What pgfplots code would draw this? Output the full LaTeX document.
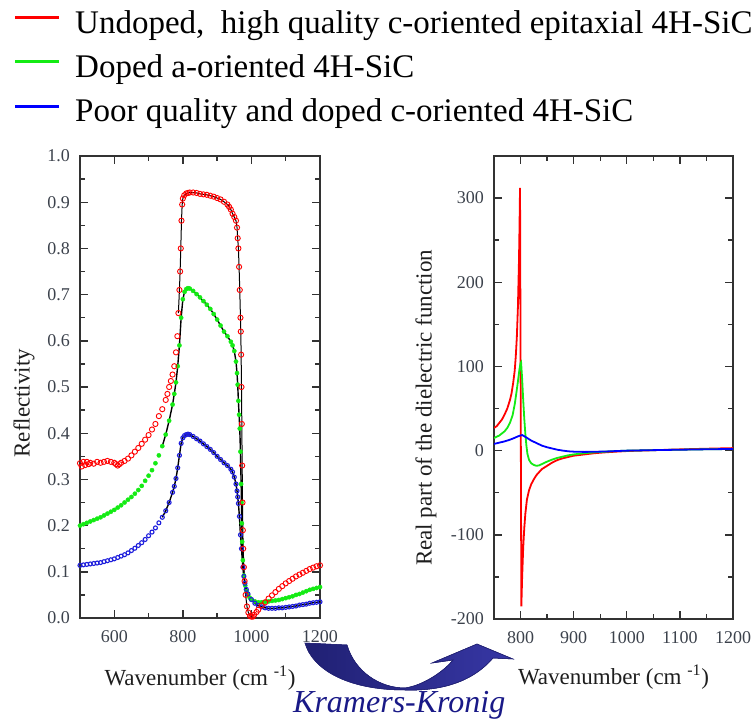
\documentclass[border=0pt]{standalone}
\usepackage{pgfplots}
\usepackage{pgfplotstable}
\pgfplotsset{compat=1.18}
\usepackage{fontspec}
\setmainfont{Liberation Serif}
\definecolor{navyL}{RGB}{32,32,115}
\definecolor{navyR}{RGB}{55,55,165}
\definecolor{kkcol}{RGB}{25,25,135}
\definecolor{ticktext}{RGB}{60,66,76}
\definecolor{labtext}{RGB}{30,30,30}
\definecolor{axcol}{RGB}{50,50,50}
\definecolor{myred}{RGB}{255,0,0}
\definecolor{mygreen}{RGB}{20,235,20}
\definecolor{myblue}{RGB}{0,0,255}
\definecolor{markblue}{RGB}{30,30,220}

\pgfplotstableread{
w R
500 0.335
505 0.328
510 0.338
515 0.331
520 0.338
525 0.333
530 0.336
540 0.334
550 0.338
560 0.336
570 0.338
580 0.340
590 0.338
600 0.336
605 0.333
610 0.330
615 0.333
620 0.336
630 0.340
640 0.345
650 0.352
660 0.360
670 0.368
680 0.377
690 0.386
700 0.396
710 0.408
720 0.420
730 0.437
740 0.452
750 0.472
755 0.485
760 0.500
765 0.513
770 0.527
775 0.545
780 0.575
784 0.610
787 0.660
790 0.710
792 0.750
794 0.800
796 0.860
798 0.895
800 0.908
804 0.915
810 0.919
815 0.920
820 0.921
830 0.921
840 0.920
850 0.918
860 0.917
870 0.916
880 0.914
890 0.912
900 0.909
910 0.906
920 0.901
930 0.895
935 0.890
940 0.884
945 0.875
950 0.868
955 0.860
958 0.845
960 0.822
962 0.800
964 0.760
966 0.710
968 0.650
969 0.620
970 0.570
971 0.500
972 0.420
973 0.330
974 0.250
975 0.190
976 0.150
978 0.110
980 0.080
983 0.050
987 0.025
991 0.012
996 0.004
1000 0.003
1004 0.003
1008 0.007
1015 0.013
1020 0.018
1030 0.027
1040 0.034
1050 0.042
1060 0.049
1070 0.056
1080 0.063
1090 0.069
1100 0.075
1110 0.080
1120 0.085
1130 0.090
1140 0.094
1150 0.098
1160 0.102
1170 0.106
1180 0.109
1190 0.112
1200 0.114
}\redR

\pgfplotstableread{
w R
500 0.200
510 0.203
520 0.206
530 0.209
540 0.212
550 0.215
560 0.218
570 0.222
580 0.226
590 0.230
600 0.234
610 0.239
620 0.244
630 0.250
640 0.256
650 0.262
660 0.269
670 0.277
680 0.286
690 0.297
700 0.308
710 0.320
720 0.335
730 0.352
740 0.372
750 0.397
760 0.427
770 0.462
775 0.485
780 0.510
785 0.545
790 0.590
795 0.650
800 0.690
805 0.706
810 0.712
815 0.714
820 0.713
830 0.708
840 0.701
850 0.694
860 0.686
870 0.678
880 0.669
890 0.658
900 0.646
910 0.633
920 0.620
930 0.610
940 0.598
945 0.590
950 0.578
955 0.555
958 0.530
960 0.505
962 0.470
964 0.440
966 0.410
968 0.360
970 0.290
971 0.250
972 0.205
973 0.165
975 0.125
978 0.092
982 0.070
986 0.058
990 0.050
995 0.044
1000 0.040
1010 0.036
1020 0.034
1030 0.034
1040 0.035
1050 0.036
1060 0.037
1070 0.038
1080 0.039
1090 0.041
1100 0.043
1110 0.045
1120 0.047
1130 0.050
1140 0.052
1150 0.055
1160 0.058
1170 0.061
1180 0.063
1190 0.065
1200 0.067
}\greenR

\pgfplotstableread{
w R
500 0.114
510 0.115
520 0.116
530 0.117
540 0.118
550 0.119
560 0.120
570 0.122
580 0.124
590 0.126
600 0.128
610 0.131
620 0.134
630 0.137
640 0.141
650 0.146
660 0.151
670 0.157
680 0.163
690 0.170
700 0.178
710 0.186
720 0.195
730 0.206
740 0.218
750 0.232
760 0.250
770 0.272
775 0.285
780 0.302
785 0.325
790 0.352
795 0.378
800 0.390
805 0.395
810 0.397
815 0.398
820 0.397
830 0.393
840 0.388
850 0.383
860 0.377
870 0.371
880 0.365
890 0.358
900 0.350
910 0.343
920 0.336
930 0.330
940 0.322
945 0.316
950 0.305
955 0.290
958 0.275
960 0.262
962 0.248
965 0.220
968 0.180
971 0.150
975 0.110
978 0.090
981 0.075
985 0.062
990 0.052
1000 0.040
1010 0.032
1020 0.027
1030 0.024
1040 0.022
1050 0.021
1060 0.021
1070 0.021
1080 0.022
1090 0.022
1100 0.023
1110 0.024
1120 0.025
1130 0.026
1140 0.028
1150 0.029
1160 0.030
1170 0.032
1180 0.033
1190 0.034
1200 0.035
}\blueR

\pgfplotstableread{
w e
750 27
755 29
760 33
765 37
770 43
775 50
780 60
783 68
786 80
789 95
791 112
793 135
795 170
797 225
798 265
799 312
801.5 -185
803 -150
805 -115
807 -92
809 -75
812 -58
816 -47
820 -40
825 -34
830 -29
840 -22
850 -18
860 -14
870 -11
880 -9
890 -7.5
900 -6
920 -4.5
940 -3
960 -2
980 -1.2
1000 -0.5
1050 0.5
1100 1.5
1150 2.3
1200 3
}\redE

\pgfplotstableread{
w e
750 15
760 18
770 23
775 27
780 33
785 42
789 55
792 68
795 82
798 97
800 104
801 105
803 85
805 60
807 38
809 20
811 6
813 -4
816 -11
820 -15
825 -17
830 -18
835 -17.5
840 -16
850 -13
860 -10.5
870 -8.5
880 -7
890 -5.5
900 -4.5
920 -3
940 -2
960 -1.2
980 -0.5
1000 0
1050 0.6
1100 1.1
1150 1.6
1200 2
}\greenE

\pgfplotstableread{
w e
750 8
760 9.5
770 11
780 13
790 15.5
795 17
800 18
803 18.5
806 17.5
810 16
815 14
820 12
830 9
840 6
850 4
860 2.5
870 1
880 0
890 -0.8
900 -1.2
920 -1.5
940 -1.3
960 -1
1000 0
1050 0.6
1100 1.1
1150 1.6
1200 2
}\blueE

\pgfplotsset{
  panel/.style={
    scale only axis,
    anchor=south west,
    axis line style={line width=1.6bp, axcol},
    every tick/.style={line width=1.4bp, axcol},
    tick align=inside,
    major tick length=8bp,
    minor tick length=5bp,
    tick label style={font=\fontsize{18bp}{18bp}\selectfont, text=ticktext},
    xticklabel style={anchor=base, yshift=-24bp, inner sep=0pt},
    yticklabel style={anchor=east, xshift=-10bp, inner sep=0pt},
    label style={font=\fontsize{23bp}{23bp}\selectfont, text=labtext},
    clip=true,
  }
}

\begin{document}
\begin{tikzpicture}
\useasboundingbox (0bp,0bp) rectangle (751bp,-725bp);
\clip (0bp,0bp) rectangle (751bp,-725bp);

% legend
\begin{scope}[x=1bp,y=1bp]
\draw[myred, line width=3bp] (15,-17) -- (59,-17);
\draw[mygreen, line width=3bp] (15,-61) -- (59,-61);
\draw[myblue, line width=3bp] (15,-106) -- (59,-106);
\node[anchor=base west, inner sep=0pt, font=\fontsize{33bp}{33bp}\selectfont] at (75,-33) {Undoped,~ high quality c-oriented epitaxial 4H-SiC};
\node[anchor=base west, inner sep=0pt, font=\fontsize{33bp}{33bp}\selectfont] at (75,-77) {Doped a-oriented 4H-SiC};
\node[anchor=base west, inner sep=0pt, font=\fontsize{33bp}{33bp}\selectfont] at (75,-121) {Poor quality and doped c-oriented 4H-SiC};
\end{scope}

% left panel
\begin{axis}[panel, at={(80bp,-618bp)}, width=240bp, height=462bp,
  xmin=500, xmax=1200, ymin=0, ymax=1,
  xtick={600,800,1000,1200}, minor xtick={700,900,1100},
  xticklabels={600,800,1000,1200},
  ytick={0,0.1,0.2,0.3,0.4,0.5,0.6,0.7,0.8,0.9,1.0},
  yticklabels={0.0,0.1,0.2,0.3,0.4,0.5,0.6,0.7,0.8,0.9,1.0},
  minor ytick={0.05,0.15,0.25,0.35,0.45,0.55,0.65,0.75,0.85,0.95},
  xlabel={Wavenumber (cm \textsuperscript{-1})},
  ylabel={Reflectivity},
  xlabel style={at={(axis description cs:0.5,-0.145)}, anchor=base},
  ylabel style={at={(axis description cs:-0.233,0.465)}, anchor=center},
]
\addplot[only marks, mark=*, mark size=2.1bp, mygreen] table[x=w,y=R] {\greenR};
\addplot[only marks, mark=o, mark size=2bp, markblue, mark options={line width=1.1bp}] table[x=w,y=R] {\blueR};
\addplot[only marks, mark=o, mark size=2.6bp, myred, mark options={line width=0.9bp}] table[x=w,y=R] {\redR};
\addplot[black, line width=1.4bp, no marks, restrict x to domain=733:1200] table[x=w,y=R] {\greenR};
\addplot[black, line width=1.4bp, no marks, restrict x to domain=733:1200] table[x=w,y=R] {\blueR};
\addplot[black, line width=1bp, no marks, restrict x to domain=785:1000] table[x=w,y=R] {\redR};
\end{axis}

% right panel
\begin{axis}[panel, at={(494bp,-619bp)}, width=239bp, height=463bp,
  xmin=750, xmax=1200, ymin=-200, ymax=350,
  xtick={800,900,1000,1100,1200}, minor xtick={850,950,1050,1150},
  xticklabels={800,900,1000,1100,1200},
  ytick={-200,-100,0,100,200,300},
  yticklabels={-200,-100,0,100,200,300},
  minor ytick={-150,-50,50,150,250},
  xlabel={Wavenumber (cm \textsuperscript{-1})},
  ylabel={Real part of the dielectric function},
  xlabel style={at={(axis description cs:0.5,-0.1425)}, anchor=base},
  ylabel style={at={(axis description cs:-0.2845,0.456)}, anchor=center},
]
\addplot[myred, line width=1.8bp, no marks] table[x=w,y=e] {\redE};
\addplot[mygreen, line width=1.8bp, no marks] table[x=w,y=e] {\greenE};
\addplot[myblue, line width=1.8bp, no marks] table[x=w,y=e] {\blueE};
\end{axis}

% Kramers-Kronig arrow
\begin{scope}[x=1bp,y=1bp]
\shade[left color=navyL, right color=navyR, draw=navyL, line width=0.5bp] (305,-643) -- (347,-645)
  .. controls (355,-672) and (380,-688) .. (405,-688)
  .. controls (425,-685) and (445,-670) .. (453,-660)
  -- (432,-663) -- (477,-644) -- (513,-659) -- (493,-658)
  .. controls (470,-685) and (435,-691) .. (405,-690)
  .. controls (345,-690) and (312,-668) .. cycle;
\draw[navyL, line width=0.5bp] (305,-643) -- (347,-645)
  .. controls (355,-672) and (380,-688) .. (405,-688)
  .. controls (425,-685) and (445,-670) .. (453,-660)
  -- (432,-663) -- (477,-644) -- (513,-659) -- (493,-658)
  .. controls (470,-685) and (435,-691) .. (405,-690)
  .. controls (345,-690) and (312,-668) .. cycle;
\node[anchor=base west, inner sep=0pt, text=kkcol, font=\fontsize{32bp}{32bp}\selectfont\itshape] at (293,-712) {Kramers-Kronig};
\end{scope}
\end{tikzpicture}
\end{document}
